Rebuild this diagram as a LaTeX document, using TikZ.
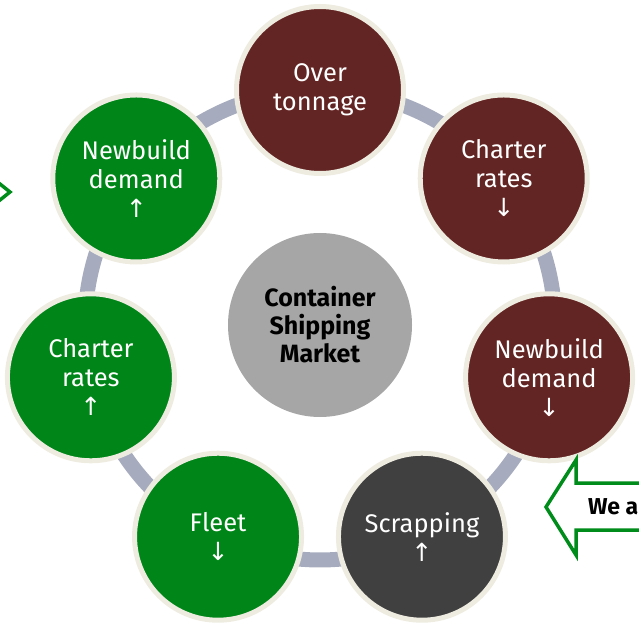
\documentclass[tikz,border=0pt]{standalone}
\usepackage{fontspec}
\setmainfont{Fira Sans}
\newfontfamily\arrowfont{DejaVu Sans}
\usetikzlibrary{calc,backgrounds}

\definecolor{stagered}{RGB}{99,37,35}
\definecolor{stagegreen}{RGB}{0,134,24}
\definecolor{stagedark}{RGB}{64,64,64}
\definecolor{hubgray}{RGB}{166,166,166}
\definecolor{rimcream}{RGB}{238,236,225}
\definecolor{ringblue}{RGB}{166,172,190}
\definecolor{calloutgreen}{RGB}{0,140,26}

\newcommand{\upmark}{{\arrowfont\fontsize{25}{29}\selectfont ↑}}
\newcommand{\downmark}{{\arrowfont\fontsize{25}{29}\selectfont ↓}}

\begin{document}
\begin{tikzpicture}[x=1pt,y=1pt,
  stage/.style={circle, draw=rimcream, line width=5pt, minimum size=167pt,
    inner sep=0pt, text=white, align=center,
    font=\fontsize{25.5}{29}\selectfont},
  hub/.style={circle, fill=hubgray, minimum size=184pt, inner sep=0pt,
    align=center, font=\bfseries\fontsize{25}{28}\selectfont},
  ring/.style={line width=15pt, draw=ringblue},
  callout/.style={draw=calloutgreen, line width=3.5pt, fill=white,
    line join=miter},
  calloutlabel/.style={anchor=west, inner sep=0pt,
    font=\bfseries\fontsize{23}{26}\selectfont}
]
\clip (0,0) rectangle (639,624);
\coordinate (O) at (320,299);

% centre of the cycle
\node[hub] (hub) at (O) {Container\\Shipping\\Market};

% the seven stages, clockwise from the top
\node[stage, fill=stagered]   (s0) at ($(O)+(90:235)$)            {Over\\tonnage};
\node[stage, fill=stagered]   (s1) at ($(O)+({90-360/7}:235)$)    {Charter\\rates\\\downmark};
\node[stage, fill=stagered]   (s2) at ($(O)+({90-2*360/7}:235)$)  {Newbuild\\demand\\\downmark};
\node[stage, fill=stagedark]  (s3) at ($(O)+({90-3*360/7}:235)$)  {Scrapping\\\upmark};
\node[stage, fill=stagegreen] (s4) at ($(O)+({90-4*360/7}:235)$)  {Fleet\\\downmark};
\node[stage, fill=stagegreen] (s5) at ($(O)+({90-5*360/7}:235)$)  {Charter\\rates\\\upmark};
\node[stage, fill=stagegreen] (s6) at ($(O)+({90-6*360/7}:235)$)  {Newbuild\\demand\\\upmark};

% ring joining neighbouring stages
\begin{scope}[on background layer]
  \foreach \i in {0,...,6} {
    \pgfmathsetmacro\st{90-\i*360/7}
    \draw[ring] (s\i.center) arc[start angle=\st, delta angle=-360/7, radius=235];
  }
\end{scope}

% tip of the arrow entering from the left
\draw[callout, fill=none] (-40,472) -- (10,432) -- (-40,392);

% callout arrow on the right
\draw[callout] (700,141) -- (576,141) -- (576,164) -- (546,117)
  -- (576,69) -- (576,94) -- (700,94);
\node[calloutlabel] (here) at (588,117) {We a};
\end{tikzpicture}
\end{document}
